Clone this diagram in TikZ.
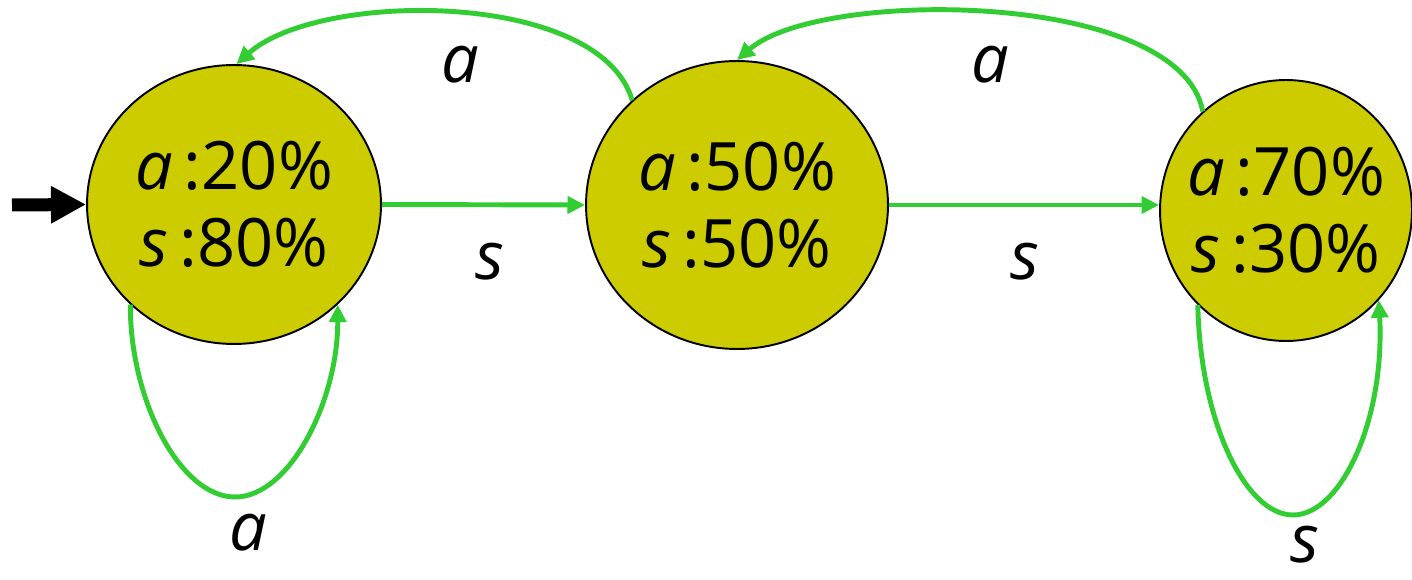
\documentclass[tikz,border=0pt]{standalone}
\usepackage{fontspec}
\setmainfont{Open Sans}
\usetikzlibrary{arrows.meta,shapes.geometric}
\definecolor{statefill}{RGB}{204,204,0}
\definecolor{edgegreen}{RGB}{50,205,50}
\tikzset{
  state/.style={ellipse,draw=black,line width=1.1pt,fill=statefill,inner xsep=-0.4cm,inner ysep=0pt,align=center,
    font=\fontsize{38}{44}\selectfont},
  trans/.style={draw=edgegreen,line width=2.8pt,-{Triangle[length=10pt,width=9.6pt]}},
  lbl/.style={font=\fontsize{38}{44}\selectfont\itshape,inner sep=0pt},
  startarrow/.style={draw=black,line width=7.4pt,-{Triangle[length=20pt,width=20pt]}}
}
\begin{document}
\begin{tikzpicture}[x=0.02cm,y=-0.02cm]
\useasboundingbox (0,0) rectangle (1412,580);
\node[state,minimum width=5.88cm,minimum height=5.58cm] (c1) at (234,204.5) {\textit{a}\,:20\%\\\textit{s}\,:80\%};
\node[state,minimum width=6.04cm,minimum height=5.76cm] (c2) at (737,205) {\textit{a}\,:50\%\\\textit{s}\,:50\%};
\node[state,minimum width=5.04cm,minimum height=5.22cm] (c3) at (1286,210.5) {\textit{a}\,:70\%\\\textit{s}\,:30\%};
\coordinate (st) at (12,205);
\draw[startarrow] (st) -- (c1.west);
\draw[trans] (c1.east) -- (c2.west);
\draw[trans] (c2.east) -- (c2.east -| c3.west);
\draw[trans] (c2.135) .. controls (600,-10) and (320,-10) .. (c1.89);
\draw[trans] (c3.130) .. controls (1180,-10) and (820,-12) .. (c2.90);
\draw[trans] (c1.224) .. controls (130,400) and (180,497) .. (235,497) .. controls (290,497) and (338,400) .. (c1.-44);
\draw[trans] (c3.227) .. controls (1200,420) and (1245,515) .. (1293,515) .. controls (1341,515) and (1385,420) .. (c3.-44);
\node[lbl] (l1) at (460,65) {a};
\node[lbl] (l2) at (990,65) {a};
\node[lbl] (l3) at (490,262) {s};
\node[lbl] (l4) at (1025,262) {s};
\node[lbl] (l5) at (248,533) {a};
\node[lbl] (l6) at (1305,545) {s};
\end{tikzpicture}
\end{document}
